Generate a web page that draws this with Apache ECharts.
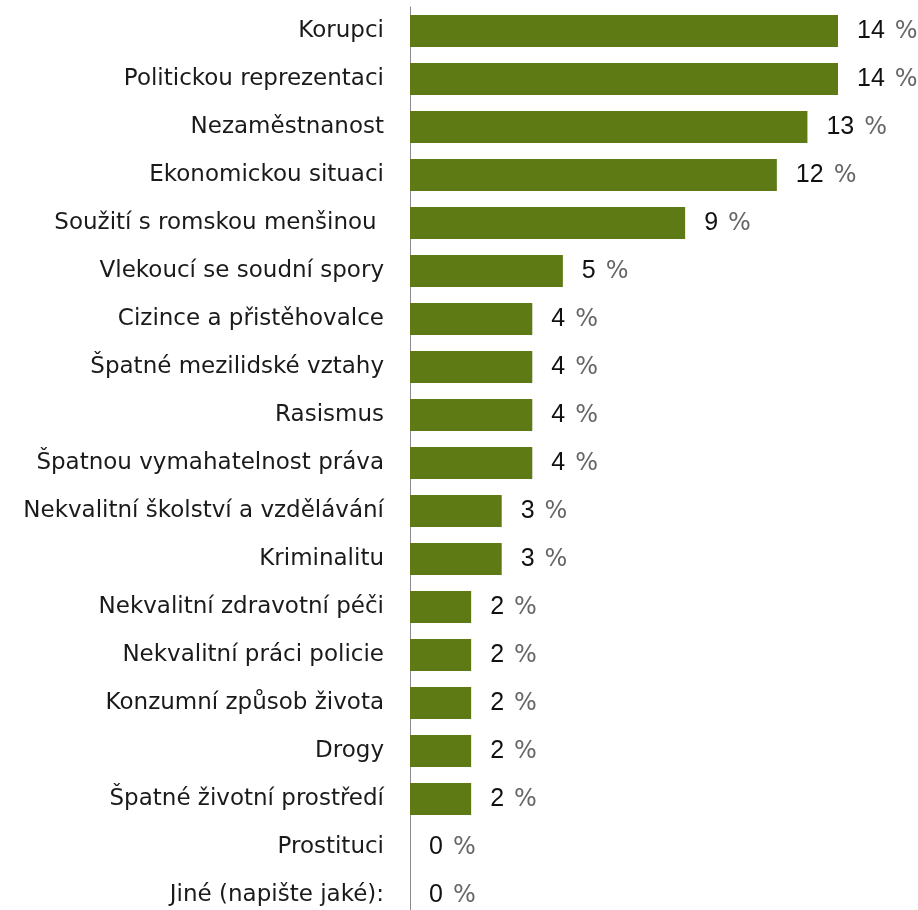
<!DOCTYPE html>
<html><head><meta charset="utf-8">
<script src="https://cdn.jsdelivr.net/npm/echarts@6/dist/echarts.min.js"></script>
<style>html,body{margin:0;padding:0;background:#fff;overflow:hidden}#c{width:918px;height:930px}</style>
</head><body><div id="c"></div>
<script>
const categories = ["Korupci","Politickou reprezentaci","Nezaměstnanost","Ekonomickou situaci","Soužití s romskou menšinou ","Vlekoucí se soudní spory","Cizince a přistěhovalce","Špatné mezilidské vztahy","Rasismus","Špatnou vymahatelnost práva","Nekvalitní školství a vzdělávání","Kriminalitu","Nekvalitní zdravotní péči","Nekvalitní práci policie","Konzumní způsob života","Drogy","Špatné životní prostředí","Prostituci","Jiné (napište jaké):"];
const values = [14,14,13,12,9,5,4,4,4,4,3,3,2,2,2,2,2,0,0];

const chart = echarts.init(document.getElementById('c'));
chart.setOption({
  animation: false,
  grid: {left: 410, top: 7, width: 428, height: 912, containLabel: false},
  xAxis: {type: 'value', min: 0, max: 14, show: false},
  yAxis: {
    type: 'category', data: categories, inverse: true,
    axisLine: {show: true, lineStyle: {color: '#8a8a8a', width: 1}},
    axisTick: {show: false},
    axisLabel: {margin: 26, color: '#1a1a1a', fontFamily: 'DejaVu Sans', fontSize: 23}
  },
  series: [{
    type: 'bar', data: values, barCategoryGap: '33%',
    itemStyle: {color: '#5d7a14'},
    label: {
      show: true, position: 'right', distance: 19,
      formatter: p => '{n|' + p.value + '}{p|%}',
      rich: {
        n: {fontFamily: 'Liberation Sans', fontSize: 25, lineHeight: 28, color: '#111', padding: [0, 10, 0, 0]},
        p: {fontFamily: '"DejaVu Sans ExtraLight", "DejaVu Sans"', fontSize: 24, lineHeight: 28, color: '#666', padding: [2, 0, 0, 0]}
      }
    }
  }]
});
</script></body></html>
